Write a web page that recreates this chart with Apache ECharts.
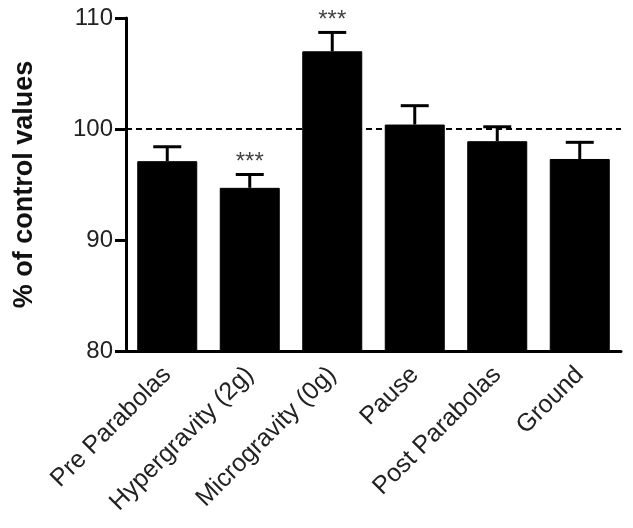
<!DOCTYPE html>
<html>
<head>
<meta charset="utf-8">
<script src="https://cdn.jsdelivr.net/npm/echarts@6/dist/echarts.min.js"></script>
<style>
  html, body { margin: 0; padding: 0; background: #fff; }
  #main { width: 633px; height: 528px; }
</style>
</head>
<body>
<div id="main"></div>
<script>
// data
const categories = ['Pre Parabolas', 'Hypergravity (2g)', 'Microgravity (0g)', 'Pause', 'Post Parabolas', 'Ground'];
const means = [97.1, 94.7, 107.0, 100.4, 98.9, 97.3];
const upperErr = [98.4, 95.9, 108.7, 102.1, 100.2, 98.8];
const stars = ['', '***', '***', '', '', ''];
const yTicks = { min: 80, max: 110, interval: 10 };
const controlLevel = 100;

const font = '"Liberation Sans", Arial, sans-serif';
const myChart = echarts.init(document.getElementById('main'));

const errData = categories.map((c, i) => [i, means[i], upperErr[i], stars[i]]);

const option = {
  backgroundColor: '#fff',
  animation: false,
  grid: { left: 126, right: 12, top: 18, bottom: 177, containLabel: false },
  xAxis: {
    type: 'category',
    data: categories,
    axisLine: { lineStyle: { color: '#000', width: 3 } },
    axisTick: { alignWithLabel: true, length: 11, lineStyle: { color: '#000', width: 3 } },
    axisLabel: { rotate: 45, fontSize: 25, margin: 20, color: '#222', fontFamily: font }
  },
  yAxis: {
    type: 'value',
    min: yTicks.min,
    max: yTicks.max,
    interval: yTicks.interval,
    name: '% of control values',
    nameLocation: 'middle',
    nameGap: 88,
    nameTextStyle: { fontSize: 27, fontWeight: 'bold', color: '#111', fontFamily: font },
    axisLine: { show: true, lineStyle: { color: '#000', width: 3 } },
    axisTick: { show: true, length: 11, lineStyle: { color: '#000', width: 3 } },
    axisLabel: { fontSize: 24, margin: 13, color: '#222', fontFamily: font },
    splitLine: { show: false }
  },
  series: [
    {
      type: 'bar',
      data: means,
      barWidth: 60,
      itemStyle: { color: '#000', borderColor: '#000', borderWidth: 1 },
      markLine: {
        silent: true,
        symbol: 'none',
        label: { show: false },
        lineStyle: { color: '#000', type: [6, 4], width: 2 },
        data: [{ yAxis: controlLevel }]
      }
    },
    {
      type: 'custom',
      data: errData,
      z: 5,
      renderItem: function (params, api) {
        const x = api.value(0);
        const base = api.coord([x, api.value(1)]);
        const top = api.coord([x, api.value(2)]);
        const half = 14;
        const children = [
          { type: 'line', shape: { x1: base[0], y1: base[1], x2: top[0], y2: top[1] }, style: { stroke: '#000', lineWidth: 3 } },
          { type: 'line', shape: { x1: top[0] - half, y1: top[1], x2: top[0] + half, y2: top[1] }, style: { stroke: '#000', lineWidth: 3 } }
        ];
        const s = errData[params.dataIndex][3];
        if (s) {
          children.push({
            type: 'text',
            style: { text: s, x: top[0], y: top[1] - 12, align: 'center', verticalAlign: 'middle', fontSize: 24, fill: '#444', fontFamily: font }
          });
        }
        return { type: 'group', children: children };
      }
    }
  ]
};

option && myChart.setOption(option);
window.addEventListener('resize', () => {
  if (myChart) {
    myChart.resize();
  }
});
</script>
</body>
</html>
